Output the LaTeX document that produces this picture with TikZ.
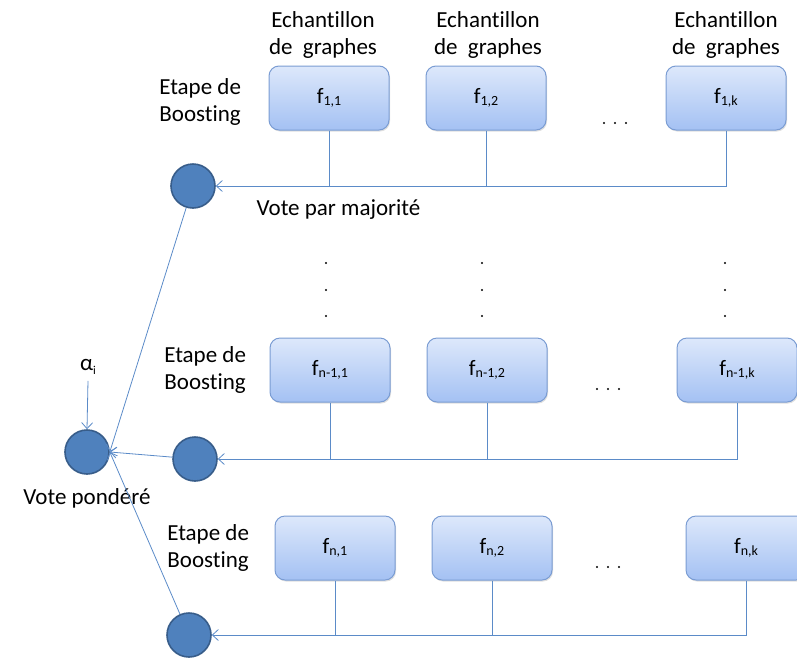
\documentclass[tikz,border=0pt]{standalone}
\usepackage{fontspec}
\setmainfont{Carlito}[Ligatures=NoCommon]
\usetikzlibrary{positioning,shadows,arrows.meta}

\definecolor{boxtop}{HTML}{DDE8FB}
\definecolor{boxbot}{HTML}{A4C1F3}
\definecolor{boxline}{HTML}{7A9CD3}
\definecolor{votefill}{HTML}{4F81BD}
\definecolor{voteline}{HTML}{385D8A}
\definecolor{wirecol}{HTML}{5B8BC8}

\newcommand{\fsub}[1]{f\raisebox{-0.25ex}{\fontsize{14}{14}\selectfont #1}}

\tikzset{
  learner/.style={rectangle, rounded corners=10pt, draw=boxline, line width=1pt,
    top color=boxtop, bottom color=boxbot, minimum width=120pt, minimum height=64pt,
    font=\fontsize{22}{25}\selectfont,
    drop shadow={shadow xshift=1pt, shadow yshift=-1.5pt, opacity=0.25}},
  vote/.style={circle, draw=voteline, line width=1.6pt, fill=votefill, minimum size=44pt, inner sep=0pt},
  wire/.style={draw=wirecol, line width=0.8pt},
  tip/.style={wire, -{Straight Barb[length=6pt, width=11pt]}},
  caption/.style={align=center, font=\fontsize{23}{27}\selectfont},
}

\begin{document}
\begin{tikzpicture}[x=1pt, y=-1pt]
  \useasboundingbox (0,0) rectangle (797,659);

  % first boosting step
  \node[learner] (A1) at (329,98) {\fsub{1,1}};
  \node[learner] (A2) at (486,98) {\fsub{1,2}};
  \node[learner] (Ak) at (726,98) {\fsub{1,k}};
  \node[vote] (V1) at (193,186) {};

  \node[caption, above=4pt of A1, xshift=-6pt] {Echantillon\\de\ \ graphes};
  \node[caption, above=4pt of A2, xshift=2pt] {Echantillon\\de\ \ graphes};
  \node[caption, above=4pt of Ak] {Echantillon\\de\ \ graphes};
  \node[caption, left=24pt of A1, yshift=-4pt] {Etape de\\Boosting};
  \node[caption, anchor=west] (maj) at (253,210) {Vote par majorité};

  \draw[tip] (Ak.south) |- (V1.east);
  \draw[wire] (A1.south) -- (A1.south |- V1.east);
  \draw[wire] (A2.south) -- (A2.south |- V1.east);

  % step n-1
  \node[learner] (B1) at (330,370) {\fsub{n-1,1}};
  \node[learner] (B2) at (487,370) {\fsub{n-1,2}};
  \node[learner] (Bk) at (737,370) {\fsub{n-1,k}};
  \node[vote] (V2) at (195,459) {};

  \node[caption, left=20pt of B1] {Etape de\\Boosting};

  \draw[tip] (Bk.south) |- (V2.east);
  \draw[wire] (B1.south) -- (B1.south |- V2.east);
  \draw[wire] (B2.south) -- (B2.south |- V2.east);

  % step n
  \node[learner] (C1) at (335,548) {\fsub{n,1}};
  \node[learner] (C2) at (492,548) {\fsub{n,2}};
  \node[learner] (Ck) at (746,548) {\fsub{n,k}};
  \node[vote] (V3) at (189,635) {};

  \node[caption, left=22pt of C1] {Etape de\\Boosting};

  \draw[tip] (Ck.south) |- (V3.east);
  \draw[wire] (C1.south) -- (C1.south |- V3.east);
  \draw[wire] (C2.south) -- (C2.south |- V3.east);

  % dots between the boxes
  \foreach \x/\y in {604/123, 597/389, 597/567}
    \foreach \d in {0,11,22}
      \fill (\x+\d,\y) circle (1.1pt);
  \foreach \x in {326,482,725}
    \foreach \y in {263,290,316}
      \fill (\x,\y) circle (1.1pt);

  % weighted vote
  \node[vote] (W) at (87,452) {};
  \node[caption] (alpha) at (88,367) {α\raisebox{-0.3ex}{\fontsize{12}{12}\selectfont i}};
  \node[caption, below=10pt of W] {Vote pondéré};

  \draw[tip] (alpha.south) ++(0,3) -- (W.north);
  \draw[tip] (V1) -- (W.east);
  \draw[tip] (V2) -- (W.east);
  \draw[tip] (V3) -- (W.east);
\end{tikzpicture}
\end{document}
